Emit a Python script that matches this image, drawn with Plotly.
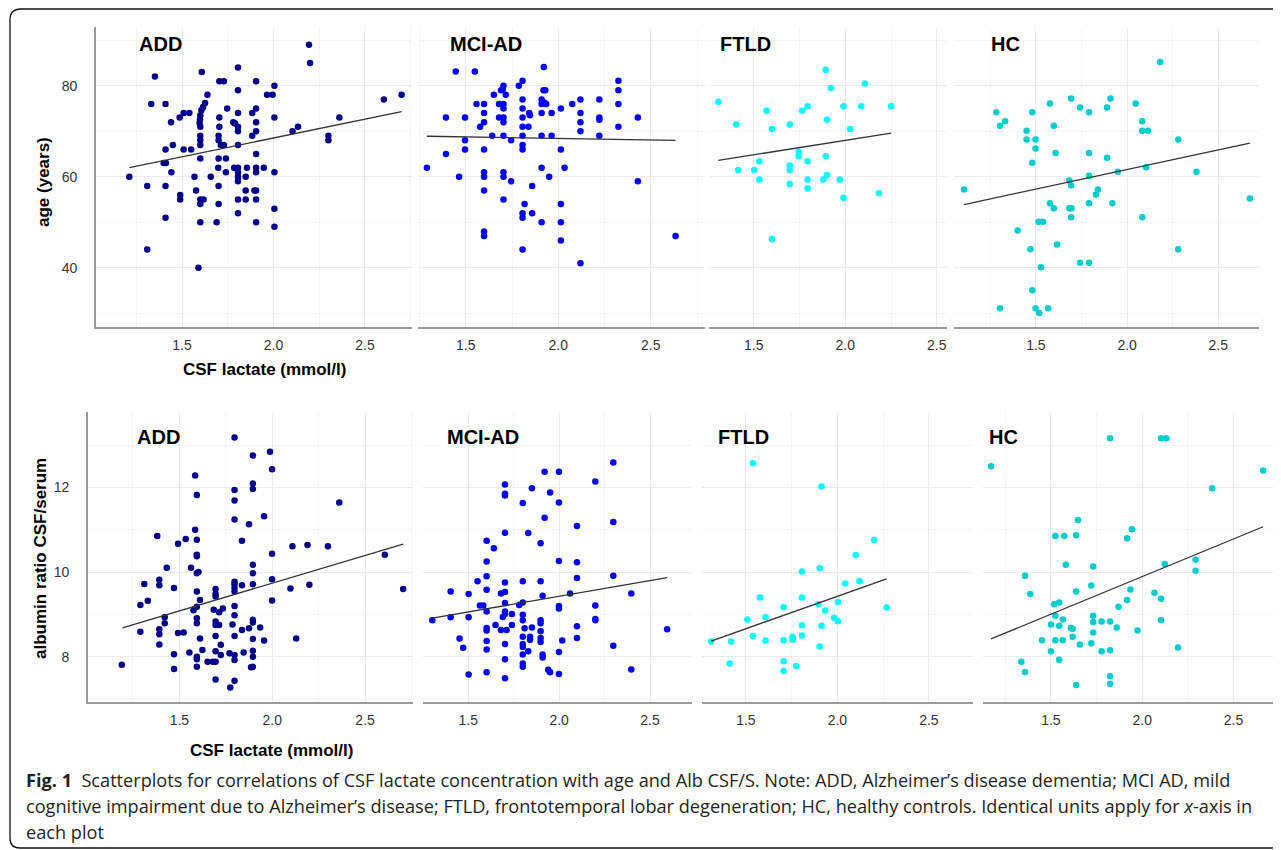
import plotly.graph_objects as go

W, H = 1281, 850
OFF = 8  # default page margin of the written html page

groups = ["ADD", "MCI-AD", "FTLD", "HC"]
colors = ["#00008B", "#0000FF", "#00FFFF", "#00CDCD"]

# ---------------- top row: CSF lactate (mmol/l) vs age (years) ----------------
age_add = [(2.194, 89), (2.20, 85), (1.352, 82), (1.608, 83), (1.806, 84), (1.704, 81), (1.729, 81),
           (1.905, 81), (2.005, 80), (1.806, 79), (1.639, 78), (1.965, 78), (1.995, 78), (2.603, 77),
           (2.70, 78), (1.332, 76), (1.41, 76), (1.626, 76.2), (1.615, 75.3), (1.606, 74.6), (1.600, 73.5),
           (1.598, 72.6), (1.596, 71.8), (1.600, 71.0), (1.509, 74), (1.54, 74), (1.487, 73), (1.44, 72),
           (1.747, 75), (1.704, 73), (1.806, 74), (1.78, 72), (1.79, 71.7), (1.806, 71), (1.806, 70),
           (1.905, 75), (1.884, 74), (1.905, 72), (1.905, 70), (1.884, 69), (2.005, 73), (1.704, 71),
           (2.104, 70), (2.134, 71), (2.36, 73), (2.30, 69), (2.30, 68), (1.6, 69), (1.6, 68), (1.6, 67),
           (1.70, 69), (1.70, 68), (1.712, 67), (1.729, 67), (1.41, 66), (1.45, 67), (1.509, 66), (1.55, 66),
           (1.806, 67), (1.905, 65), (1.6, 64), (1.70, 64), (1.74, 64), (1.40, 63), (1.412, 63), (1.698, 62),
           (1.785, 62), (1.806, 62), (1.855, 62), (1.905, 62), (1.947, 62), (1.442, 61), (1.74, 61),
           (1.806, 61), (1.806, 60), (1.806, 59), (1.905, 61), (2.005, 61), (1.212, 60), (1.568, 60),
           (1.657, 60), (1.848, 60), (1.31, 58), (1.41, 58), (1.70, 58), (1.577, 57), (1.848, 57),
           (1.896, 57), (1.905, 57), (1.49, 56), (1.49, 55), (1.6, 55), (1.618, 55), (1.6, 54), (1.70, 54),
           (1.806, 55), (1.848, 55), (1.905, 55), (2.005, 53), (1.806, 52), (1.41, 51), (1.6, 50),
           (1.689, 50), (1.905, 50), (2.005, 49), (1.31, 44), (1.59, 40)]

age_mci = [(1.922, 84.1), (1.446, 83.1), (1.549, 83.1), (2.325, 81.1), (1.807, 81.1), (1.704, 80),
           (1.787, 80), (1.69, 79), (1.70, 79.2), (1.716, 78), (1.92, 79), (1.93, 79), (2.325, 79),
           (1.652, 78), (1.807, 77), (1.91, 77), (2.12, 77), (2.222, 77), (1.558, 76), (1.599, 76),
           (1.68, 76), (1.704, 76), (1.91, 76), (1.924, 76.3), (1.935, 76), (2.076, 76), (2.325, 76),
           (1.704, 75), (1.807, 75), (2.014, 75), (1.599, 74), (1.843, 74), (1.847, 73.5), (1.91, 74),
           (1.964, 74), (2.12, 74), (1.393, 73), (1.496, 73), (1.68, 73), (1.704, 73), (1.807, 73),
           (2.222, 73), (2.43, 73), (1.599, 72), (1.704, 72), (2.12, 72), (2.222, 72.5), (1.578, 71),
           (1.807, 71), (1.839, 71), (2.325, 71), (2.12, 70), (1.643, 69), (1.704, 69), (1.807, 69),
           (1.91, 69), (1.964, 69), (2.222, 69), (1.496, 68), (1.745, 68), (1.807, 67), (1.807, 66),
           (1.599, 66), (1.496, 66), (2.014, 66), (1.393, 65), (1.29, 62), (1.91, 62), (2.034, 62),
           (1.599, 61), (1.704, 61), (1.464, 60), (1.599, 60), (1.704, 60), (1.951, 60), (1.745, 59),
           (2.43, 59), (1.859, 58), (1.599, 57), (1.704, 55), (1.818, 54), (2.014, 54), (1.807, 52),
           (1.859, 52), (1.807, 51), (1.91, 50), (2.014, 50), (1.599, 48), (1.599, 47), (2.014, 46),
           (2.634, 47), (1.807, 44), (2.12, 41)]

age_ftld = [(1.893, 83.5), (2.107, 80.5), (1.921, 79.5), (1.306, 76.5), (1.569, 74.5), (1.765, 74.5),
            (1.794, 75.5), (1.99, 75.5), (2.087, 75.5), (2.251, 75.5), (1.90, 72.5), (1.403, 71.5),
            (1.696, 71.5), (1.599, 70.5), (2.026, 70.5), (1.745, 65.5), (1.745, 64.5), (1.794, 63.4),
            (1.53, 63.4), (1.893, 64.5), (1.696, 62.5), (1.696, 61.5), (1.415, 61.5), (1.502, 61.5),
            (1.90, 60.4), (1.53, 59.4), (1.794, 59.4), (1.88, 59.4), (1.97, 59.4), (1.696, 58.4),
            (1.794, 57.4), (2.184, 56.4), (1.99, 55.4), (1.599, 46.3)]

age_hc = [(2.181, 85.2), (1.693, 77.2), (1.909, 77.2), (1.577, 76.1), (2.047, 76.1), (1.742, 75.2),
          (1.89, 75.2), (1.283, 74.2), (1.48, 74.2), (1.791, 74.2), (1.331, 72.2), (2.083, 72.2),
          (1.303, 71.2), (1.598, 71.2), (1.449, 70.1), (2.083, 70.1), (2.114, 70.1), (1.449, 68.2),
          (1.498, 68.2), (2.28, 68.2), (1.498, 66.2), (1.608, 65.2), (1.791, 65.2), (1.89, 64.2),
          (1.48, 63.1), (2.104, 62.1), (1.949, 61.1), (2.38, 61.1), (1.791, 60.2), (1.683, 59.2),
          (1.693, 58.1), (1.106, 57.2), (1.84, 57.2), (1.829, 56.1), (2.673, 55.2), (1.577, 54.2),
          (1.791, 54.2), (1.919, 54.2), (1.598, 53.1), (1.683, 53.1), (1.695, 53.1), (1.693, 51.1),
          (2.083, 51.1), (1.514, 50.1), (1.539, 50.1), (1.40, 48.2), (1.616, 45.1), (1.47, 44.1),
          (2.28, 44.1), (1.742, 41.1), (1.791, 41.1), (1.528, 40.1), (1.48, 35.1), (1.303, 31.1),
          (1.498, 31.1), (1.567, 31.1), (1.518, 30.1)]

# fitted lines: (x_start, y_start, x_end, y_end)
age_fit = [(1.212, 62.0, 2.70, 74.3), (1.29, 68.9, 2.634, 68.0),
           (1.306, 63.6, 2.251, 69.6), (1.106, 53.9, 2.673, 67.4)]

# ---------------- bottom row: CSF lactate vs albumin ratio CSF/serum ----------------
alb_add = [(1.797, 13.18), (1.988, 12.84), (1.896, 12.75), (1.999, 12.43), (1.585, 12.28), (1.896, 12.09),
           (1.896, 11.96), (1.797, 11.94), (1.797, 11.69), (1.594, 11.82), (2.361, 11.64), (1.956, 11.32),
           (1.797, 11.24), (1.875, 11.13), (1.585, 11.0), (1.381, 10.85), (1.534, 10.78), (1.594, 10.76),
           (1.837, 10.74), (1.493, 10.67), (2.109, 10.61), (2.19, 10.64), (2.30, 10.61), (1.594, 10.41),
           (1.594, 10.37), (1.999, 10.43), (2.606, 10.41), (1.432, 10.10), (1.563, 10.10), (1.896, 10.17),
           (1.603, 10.0), (1.594, 9.97), (1.896, 9.97), (1.392, 9.82), (1.392, 9.69), (1.311, 9.72),
           (1.797, 9.77), (1.797, 9.71), (1.837, 9.69), (1.896, 9.71), (1.797, 9.63), (1.797, 9.54),
           (1.999, 9.83), (1.471, 9.62), (2.098, 9.61), (2.20, 9.70), (2.705, 9.60), (1.695, 9.60),
           (1.695, 9.48), (1.695, 9.42), (1.594, 9.54), (1.33, 9.32), (1.611, 9.34), (1.999, 9.33),
           (1.29, 9.22), (1.797, 9.20), (1.576, 9.10), (1.594, 9.18), (1.685, 9.11), (1.714, 9.05),
           (1.734, 9.14), (1.421, 8.93), (1.421, 8.79), (1.594, 8.91), (1.594, 8.79), (1.695, 8.83),
           (1.695, 8.75), (1.714, 8.75), (1.797, 8.98), (1.786, 8.76), (1.896, 8.87), (1.896, 8.81),
           (1.935, 8.69), (1.875, 8.67), (1.837, 8.63), (1.29, 8.59), (1.392, 8.65), (1.392, 8.53),
           (1.493, 8.56), (1.523, 8.57), (1.695, 8.49), (1.797, 8.49), (1.611, 8.43), (1.896, 8.42),
           (2.129, 8.43), (1.956, 8.38), (1.392, 8.29), (1.723, 8.28), (1.624, 8.16), (1.554, 8.10),
           (1.695, 8.13), (1.723, 8.04), (1.471, 8.06), (1.594, 8.0), (1.594, 7.94), (1.594, 7.76),
           (1.77, 8.08), (1.797, 8.04), (1.797, 7.92), (1.846, 8.10), (1.896, 8.14), (1.896, 8.0),
           (1.896, 7.76), (1.886, 7.75), (1.652, 7.88), (1.68, 7.88), (1.695, 7.88), (1.19, 7.81),
           (1.471, 7.71), (1.695, 7.46), (1.797, 7.43), (1.774, 7.27)]

alb_mci = [(2.298, 12.59), (1.92, 12.37), (1.999, 12.37), (2.199, 12.14), (1.702, 12.07), (1.85, 11.98),
           (1.702, 11.85), (1.702, 11.81), (1.95, 11.88), (1.80, 11.63), (1.999, 11.64), (1.92, 11.28),
           (2.298, 11.18), (2.098, 11.09), (1.702, 10.93), (1.83, 10.92), (1.601, 10.74), (1.898, 10.68),
           (1.641, 10.56), (1.601, 10.25), (1.999, 10.26), (2.098, 10.23), (1.601, 9.90), (2.098, 9.86),
           (2.298, 9.91), (1.551, 9.78), (1.702, 9.75), (1.80, 9.78), (1.898, 9.78), (1.403, 9.54),
           (1.502, 9.48), (1.601, 9.58), (1.702, 9.53), (1.68, 9.49), (2.397, 9.49), (2.06, 9.49),
           (1.909, 9.44), (1.702, 9.27), (1.80, 9.28), (1.78, 9.22), (1.564, 9.21), (1.583, 9.21),
           (1.999, 9.20), (1.999, 9.14), (2.199, 9.21), (1.601, 9.07), (1.702, 9.07), (1.702, 9.01),
           (1.74, 9.01), (1.69, 8.94), (1.80, 8.99), (1.403, 8.93), (1.502, 8.93), (1.302, 8.86),
           (2.199, 8.89), (2.199, 8.86), (1.80, 8.86), (1.898, 8.86), (1.898, 8.79), (1.65, 8.75),
           (1.74, 8.75), (2.098, 8.72), (1.601, 8.68), (1.601, 8.62), (1.68, 8.63), (1.711, 8.63),
           (1.81, 8.67), (1.85, 8.69), (2.594, 8.65), (1.898, 8.60), (1.80, 8.47), (1.84, 8.47),
           (1.84, 8.40), (1.898, 8.44), (1.898, 8.35), (1.452, 8.43), (2.098, 8.44), (1.601, 8.37),
           (1.702, 8.30), (1.80, 8.30), (1.80, 8.23), (2.017, 8.38), (1.472, 8.21), (1.601, 8.17),
           (2.298, 8.26), (1.83, 8.13), (1.999, 8.11), (1.909, 8.05), (1.909, 7.98), (1.80, 8.05),
           (1.702, 7.94), (1.80, 7.84), (1.80, 7.76), (2.397, 7.70), (1.94, 7.69), (1.95, 7.63),
           (1.601, 7.63), (1.502, 7.58), (1.999, 7.59), (1.702, 7.49)]

alb_ftld = [(1.538, 12.57), (1.913, 12.02), (2.20, 10.76), (2.101, 10.40), (1.903, 10.09), (1.806, 10.01),
            (2.043, 9.73), (2.121, 9.78), (1.577, 9.40), (1.806, 9.40), (2.002, 9.29), (1.895, 9.24),
            (1.706, 9.17), (2.269, 9.16), (1.933, 9.09), (1.607, 8.93), (1.982, 8.92), (2.002, 8.84),
            (1.508, 8.88), (1.806, 8.74), (1.913, 8.73), (1.538, 8.49), (1.806, 8.50), (1.755, 8.47),
            (1.755, 8.40), (1.31, 8.36), (1.419, 8.36), (1.607, 8.38), (1.706, 8.39), (1.903, 8.24),
            (1.706, 7.89), (1.411, 7.84), (1.775, 7.78), (1.706, 7.66)]

alb_hc = [(1.824, 13.16), (2.103, 13.16), (2.132, 13.16), (1.172, 12.50), (2.662, 12.40), (2.383, 11.98),
          (1.648, 11.23), (1.943, 11.01), (1.524, 10.85), (1.573, 10.85), (1.638, 10.87), (1.917, 10.80),
          (2.292, 10.29), (2.292, 10.03), (2.123, 10.19), (1.581, 10.17), (1.731, 10.13), (1.358, 9.91),
          (1.721, 9.68), (1.935, 9.59), (1.638, 9.54), (1.387, 9.48), (2.067, 9.51), (2.103, 9.37),
          (1.917, 9.34), (1.545, 9.28), (1.518, 9.24), (1.87, 9.18), (1.524, 8.97), (1.731, 8.97),
          (1.565, 8.88), (1.731, 8.82), (1.777, 8.83), (1.824, 8.83), (2.103, 8.86), (1.50, 8.76),
          (1.545, 8.73), (1.609, 8.68), (1.619, 8.66), (1.86, 8.69), (1.974, 8.62), (1.731, 8.57),
          (1.619, 8.47), (1.451, 8.39), (1.524, 8.39), (1.565, 8.39), (1.721, 8.32), (1.658, 8.29),
          (2.196, 8.22), (1.50, 8.13), (1.777, 8.13), (1.824, 8.15), (1.545, 7.93), (1.338, 7.88),
          (1.358, 7.64), (1.824, 7.54), (1.824, 7.36), (1.638, 7.33)]

alb_fit = [(1.194, 8.68, 2.705, 10.66), (1.302, 8.91, 2.594, 9.87),
           (1.31, 8.37, 2.269, 9.84), (1.172, 8.42, 2.662, 11.07)]

x_title = "CSF lactate (mmol/l)"
y_titles = ["age (years)", "albumin ratio CSF/serum"]

caption_lines = [
    "<b>Fig. 1</b>  Scatterplots for correlations of CSF lactate concentration with age and Alb CSF/S. "
    "Note: ADD, Alzheimer’s disease dementia; MCI AD, mild",
    "cognitive impairment due to Alzheimer’s disease; FTLD, frontotemporal lobar degeneration; "
    "HC, healthy controls. Identical units apply for <i>x</i>-axis in",
    "each plot",
]

# ---------------- layout geometry (pixels of the page) ----------------
rows = [
    dict(data=[age_add, age_mci, age_ftld, age_hc], fit=age_fit,
         xpx=[(96, 412), (418, 705), (709, 947), (954, 1259)], ypx=(27, 327),
         xr=[(1.03, 2.757), (1.242, 2.793), (1.255, 2.556), (1.051, 2.723)], yr=(27.0, 92.9),
         ydt=20, ymin=10, title_y=44, title_x=[137, 448, 718, 989],
         ytitle_pos=(43, 182), xtitle_pos=(264, 369)),
    dict(data=[alb_add, alb_mci, alb_ftld, alb_hc], fit=alb_fit,
         xpx=[(88, 413), (423, 692), (702, 973), (983, 1275)], ypx=(412, 702),
         xr=[(1.008, 2.758), (1.251, 2.731), (1.26, 2.741), (1.128, 2.727)], yr=(6.93, 13.78),
         ydt=2, ymin=1, title_y=437, title_x=[135, 445, 716, 987],
         ytitle_pos=(40, 559), xtitle_pos=(271, 750)),
]


def fx(p):
    return (p - OFF) / W


def fy(p):
    return 1 - (p - OFF) / H


fig = go.Figure()
annotations = []
tick_font = dict(family="Liberation Sans, Arial, sans-serif", size=14, color="#333333")
bold_font = "Liberation Sans, Arial, sans-serif"

k = 0
for r, row in enumerate(rows):
    for g in range(4):
        k += 1
        xa = "x" if k == 1 else f"x{k}"
        ya = "y" if k == 1 else f"y{k}"
        pts = row["data"][g]
        fig.add_trace(go.Scatter(
            x=[p[0] for p in pts], y=[p[1] for p in pts], mode="markers",
            marker=dict(color=colors[g], size=6.5, line=dict(width=0)),
            xaxis=xa, yaxis=ya, showlegend=False, hoverinfo="x+y"))
        f = row["fit"][g]
        fig.add_trace(go.Scatter(
            x=[f[0], f[2]], y=[f[1], f[3]], mode="lines",
            line=dict(color="#333333", width=1.3),
            xaxis=xa, yaxis=ya, showlegend=False, hoverinfo="skip"))
        x0, x1 = row["xpx"][g]
        y0, y1 = row["ypx"]
        first = g == 0
        fig.layout[f"xaxis{k if k > 1 else ''}"] = dict(
            domain=[fx(x0), fx(x1)], range=list(row["xr"][g]), anchor=ya,
            tick0=0, dtick=0.5, tickformat=".1f", showgrid=True, gridcolor="#ebebeb", gridwidth=1,
            minor=dict(dtick=0.25, tick0=0, showgrid=True, gridcolor="#f5f5f5", gridwidth=1),
            showline=True, linecolor="#9a9a9a", linewidth=1.6,
            ticks="outside", ticklen=4, tickcolor="rgba(0,0,0,0)",
            tickfont=tick_font, zeroline=False, fixedrange=True)
        fig.layout[f"yaxis{k if k > 1 else ''}"] = dict(
            domain=[fy(y1), fy(y0)], range=list(row["yr"]), anchor=xa,
            tick0=0, dtick=row["ydt"], showgrid=True, gridcolor="#ebebeb", gridwidth=1,
            minor=dict(dtick=row["ymin"], tick0=0, showgrid=True, gridcolor="#f5f5f5", gridwidth=1),
            showline=first, linecolor="#9a9a9a", linewidth=1.6,
            showticklabels=first, ticks="outside" if first else "", ticklen=14,
            tickcolor="rgba(0,0,0,0)", tickfont=tick_font, zeroline=False, fixedrange=True)
        annotations.append(dict(
            text=f"<b>{groups[g]}</b>", x=fx(row["title_x"][g]), y=fy(row["title_y"]),
            xref="paper", yref="paper", xanchor="left", yanchor="middle", showarrow=False,
            font=dict(family=bold_font, size=20, color="#000000")))
    annotations.append(dict(
        text=f"<b>{y_titles[r]}</b>", x=fx(row["ytitle_pos"][0]), y=fy(row["ytitle_pos"][1]),
        xref="paper", yref="paper", xanchor="center", yanchor="middle", textangle=-90,
        showarrow=False, font=dict(family=bold_font, size=17, color="#000000")))
    annotations.append(dict(
        text=f"<b>{x_title}</b>", x=fx(row["xtitle_pos"][0]), y=fy(row["xtitle_pos"][1]),
        xref="paper", yref="paper", xanchor="center", yanchor="middle",
        showarrow=False, font=dict(family=bold_font, size=17, color="#000000")))

cap_y = [780, 806, 832]
for line, yy in zip(caption_lines, cap_y):
    annotations.append(dict(
        text=line, x=fx(24), y=fy(yy), xref="paper", yref="paper", xanchor="left",
        yanchor="middle", showarrow=False, align="left",
        font=dict(family="Open Sans, sans-serif", size=18.15, color="#231f20")))

border = (f"M {fx(10)} {fy(838)} Q {fx(10)} {fy(848)} {fx(20)} {fy(848)} L {fx(1300)} {fy(848)} "
          f"M {fx(10)} {fy(838)} L {fx(10)} {fy(20)} Q {fx(10)} {fy(9)} {fx(21)} {fy(9)} "
          f"L {fx(1300)} {fy(9)}")
shapes = [dict(type="path", path=border, xref="paper", yref="paper",
               line=dict(color="#111111", width=1.3))]

fig.update_layout(
    width=W, height=H, margin=dict(l=0, r=0, t=0, b=0),
    paper_bgcolor="white", plot_bgcolor="white",
    annotations=annotations, shapes=shapes, showlegend=False)

fig.write_html("out.html")
